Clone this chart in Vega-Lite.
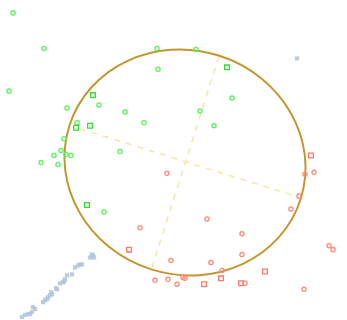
{
  "$schema": "https://vega.github.io/schema/vega-lite/v6.json",
  "width": 347,
  "height": 320,
  "padding": 0,
  "autosize": {"type": "fit", "contains": "padding"},
  "background": "white",
  "config": {"view": {"stroke": null}},
  "datasets": {
    "green_c": [
      {"x": 1.3, "y": 30.7}, {"x": 4.4, "y": 27.1}, {"x": 0.9, "y": 22.8}, {"x": 15.7, "y": 27.1},
      {"x": 15.8, "y": 25.0}, {"x": 6.7, "y": 21.1}, {"x": 9.9, "y": 21.4}, {"x": 12.5, "y": 20.7},
      {"x": 14.4, "y": 19.6}, {"x": 7.7, "y": 19.6}, {"x": 6.4, "y": 18.0}, {"x": 6.1, "y": 16.8},
      {"x": 6.6, "y": 16.4}, {"x": 7.1, "y": 16.3}, {"x": 5.4, "y": 16.3}, {"x": 12.0, "y": 16.7},
      {"x": 4.1, "y": 15.6}, {"x": 5.8, "y": 15.4}, {"x": 10.4, "y": 10.6}, {"x": 19.6, "y": 27.0},
      {"x": 23.2, "y": 22.1}, {"x": 20.0, "y": 20.8}, {"x": 21.4, "y": 19.3}
    ],
    "green_s": [
      {"x": 7.6, "y": 19.1}, {"x": 9.0, "y": 19.3}, {"x": 9.3, "y": 22.4}, {"x": 8.7, "y": 11.3}, {"x": 22.7, "y": 25.2}
    ],
    "red_c": [
      {"x": 30.5, "y": 14.4}, {"x": 31.4, "y": 14.6}, {"x": 29.9, "y": 12.2}, {"x": 29.1, "y": 10.9},
      {"x": 20.7, "y": 9.9}, {"x": 24.2, "y": 8.4}, {"x": 24.2, "y": 6.3}, {"x": 21.1, "y": 5.5},
      {"x": 22.2, "y": 4.7}, {"x": 32.9, "y": 7.2}, {"x": 33.3, "y": 6.8}, {"x": 17.1, "y": 5.7},
      {"x": 18.3, "y": 4.0}, {"x": 18.5, "y": 3.9}, {"x": 17.7, "y": 3.3}, {"x": 24.5, "y": 3.4},
      {"x": 30.4, "y": 2.8}, {"x": 16.7, "y": 14.5}, {"x": 14.0, "y": 9.0}, {"x": 15.5, "y": 3.7},
      {"x": 16.8, "y": 3.8}
    ],
    "red_s": [
      {"x": 31.1, "y": 16.3}, {"x": 26.5, "y": 4.6}, {"x": 20.4, "y": 3.3}, {"x": 22.1, "y": 3.9},
      {"x": 24.1, "y": 3.4}, {"x": 12.9, "y": 6.8}
    ],
    "blue": [
      {"x": 29.7, "y": 26.1}, {"x": 9.3, "y": 6.2}, {"x": 9.0, "y": 6.0}, {"x": 9.2, "y": 6.3},
      {"x": 9.4, "y": 6.0}, {"x": 8.0, "y": 5.3}, {"x": 7.8, "y": 5.2}, {"x": 8.2, "y": 5.3},
      {"x": 7.5, "y": 5.0}, {"x": 7.2, "y": 4.3}, {"x": 6.7, "y": 4.2}, {"x": 6.5, "y": 3.8},
      {"x": 6.3, "y": 3.5}, {"x": 6.0, "y": 3.4}, {"x": 6.4, "y": 3.6}, {"x": 5.7, "y": 2.8},
      {"x": 5.6, "y": 2.9}, {"x": 5.2, "y": 2.3}, {"x": 5.0, "y": 2.2}, {"x": 4.8, "y": 2.0},
      {"x": 5.1, "y": 2.5}, {"x": 4.7, "y": 1.8}, {"x": 4.5, "y": 1.7}, {"x": 4.3, "y": 1.5},
      {"x": 3.5, "y": 0.8}, {"x": 3.3, "y": 1.0}, {"x": 3.2, "y": 0.5}, {"x": 3.0, "y": 0.3},
      {"x": 2.8, "y": 0.3}, {"x": 2.5, "y": 0.2}, {"x": 2.2, "y": 0.0}
    ],
    "axes": [
      {"x": 8.0, "y": 19.0, "x2": 29.9, "y2": 12.1},
      {"x": 21.9, "y": 26.3, "x2": 15.2, "y2": 5.0}
    ],
    "center": [{"x": 18.5, "y": 15.6}]
  },
  "encoding": {
    "x": {"field": "x", "type": "quantitative", "scale": {"domain": [0, 34.7], "nice": false, "zero": false}, "axis": null},
    "y": {"field": "y", "type": "quantitative", "scale": {"domain": [0, 32], "nice": false, "zero": false}, "axis": null}
  },
  "layer": [
    {
      "data": {"name": "blue"},
      "mark": {"type": "point", "shape": "square", "filled": true, "color": "#b0c4de", "opacity": 0.85, "size": 18}
    },
    {
      "data": {"name": "axes"},
      "mark": {"type": "rule", "color": "#f3e6a6", "strokeWidth": 1.5, "strokeDash": [6, 6]},
      "encoding": {
        "x2": {"field": "x2"},
        "y2": {"field": "y2"}
      }
    },
    {
      "data": {"name": "center"},
      "mark": {
        "type": "point",
        "shape": "M -1 0 A 1 0.924 0 1 1 1 0 A 1 0.924 0 1 1 -1 0 Z",
        "filled": false,
        "color": "#c4962f",
        "strokeWidth": 2,
        "opacity": 1,
        "size": 58855,
        "angle": 17.5
      }
    },
    {
      "data": {"name": "green_c"},
      "mark": {"type": "point", "shape": "circle", "filled": false, "color": "#5cf25c", "strokeWidth": 1.3, "opacity": 1, "size": 18}
    },
    {
      "data": {"name": "green_s"},
      "mark": {"type": "point", "shape": "square", "filled": false, "color": "#33dd33", "strokeWidth": 1.3, "opacity": 1, "size": 22}
    },
    {
      "data": {"name": "red_c"},
      "mark": {"type": "point", "shape": "circle", "filled": false, "color": "#ff8a78", "strokeWidth": 1.3, "opacity": 1, "size": 18}
    },
    {
      "data": {"name": "red_s"},
      "mark": {"type": "point", "shape": "square", "filled": false, "color": "#ff7a6a", "strokeWidth": 1.3, "opacity": 1, "size": 22}
    }
  ]
}
